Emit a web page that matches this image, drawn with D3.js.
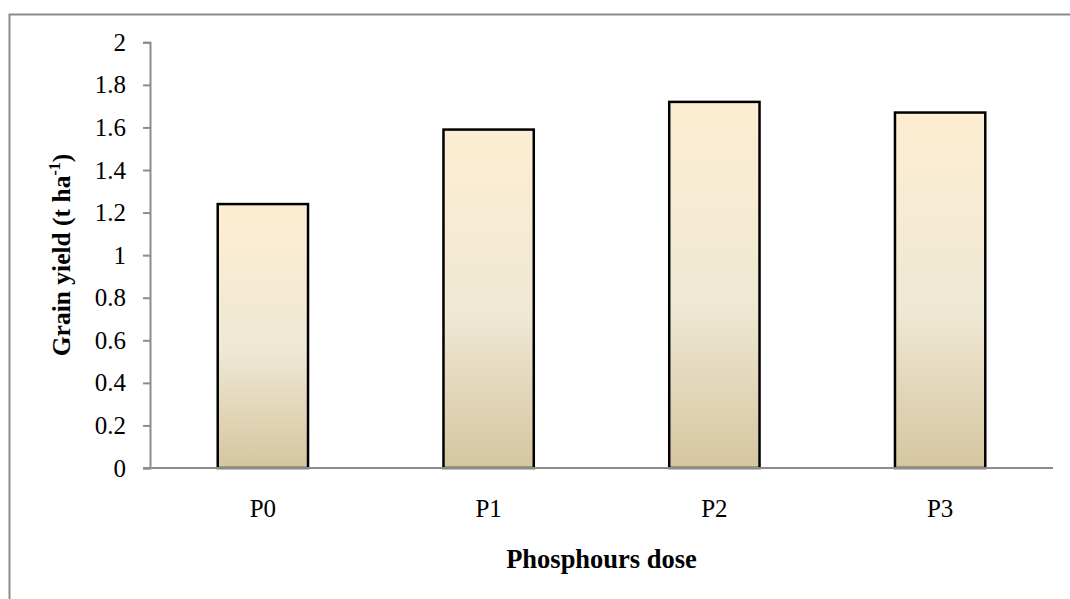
<!DOCTYPE html>
<html>
<head>
<meta charset="utf-8">
<script src="https://cdn.jsdelivr.net/npm/d3@7"></script>
<style>
  html, body { margin: 0; padding: 0; background: #fff; }
  svg { display: block; }
  svg text { font-family: "Liberation Serif", "Times New Roman", serif; fill: #000; }
</style>
</head>
<body>
<svg id="chart" width="1070" height="599"></svg>
<script>
// Grain yield by phosphorus dose
const categories = ["P0", "P1", "P2", "P3"];
const yieldValues = [1.24, 1.59, 1.72, 1.67];
const yTicks = [0, 0.2, 0.4, 0.6, 0.8, 1, 1.2, 1.4, 1.6, 1.8, 2];

const svg = d3.select("#chart");
const plot = { left: 150, right: 1053, top: 42.3, bottom: 468 };
const serif = '"Liberation Serif", "Times New Roman", serif';

// outer chart frame
svg.append("path")
  .attr("d", "M9.5,620 L9.5,14.5 L1075,14.5")
  .attr("fill", "none")
  .attr("stroke", "#8c8c8c")
  .attr("stroke-width", 2);

const x = d3.scaleBand()
  .domain(categories)
  .range([plot.left, plot.right])
  .paddingInner(0.6)
  .paddingOuter(0.3);

const y = d3.scaleLinear()
  .domain([0, 2])
  .range([plot.bottom, plot.top]);

// bar fill gradient
const defs = svg.append("defs");
const grad = defs.append("linearGradient")
  .attr("id", "barFill")
  .attr("x1", 0).attr("y1", 0).attr("x2", 0).attr("y2", 1);
grad.append("stop").attr("offset", "0%").attr("stop-color", "#fdeed2");
grad.append("stop").attr("offset", "55%").attr("stop-color", "#efe8d4");
grad.append("stop").attr("offset", "100%").attr("stop-color", "#d5c6a0");

// y axis
const yAxis = d3.axisLeft(y)
  .tickValues(yTicks)
  .tickSize(7)
  .tickPadding(17)
  .tickFormat(d3.format("~g"));
const gy = svg.append("g")
  .attr("transform", `translate(${plot.left},0)`)
  .call(yAxis);
gy.attr("font-family", null).attr("font-size", null);
gy.select(".domain").attr("stroke", "#8c8c8c").attr("stroke-width", 2);
gy.selectAll(".tick line").attr("stroke", "#8c8c8c").attr("stroke-width", 2);
gy.selectAll(".tick text")
  .style("font-family", serif)
  .style("font-size", "25px")
  .attr("fill", "#000");

// bars
svg.append("g")
  .selectAll("rect")
  .data(categories)
  .join("rect")
  .attr("x", d => x(d))
  .attr("y", (d, i) => y(yieldValues[i]))
  .attr("width", x.bandwidth())
  .attr("height", (d, i) => y(0) - y(yieldValues[i]))
  .attr("fill", "url(#barFill)")
  .attr("stroke", "#000")
  .attr("stroke-width", 2.5);

// x axis
const xAxis = d3.axisBottom(x).tickSize(0).tickPadding(31);
const gx = svg.append("g")
  .attr("transform", `translate(0,${plot.bottom})`)
  .call(xAxis);
gx.attr("font-family", null).attr("font-size", null);
gx.select(".domain").attr("stroke", "#8c8c8c").attr("stroke-width", 2)
  .attr("d", `M${plot.left - 7},0H${plot.right}`);
gx.selectAll(".tick text")
  .style("font-family", serif)
  .style("font-size", "25px")
  .attr("fill", "#000");

// axis titles
svg.append("text")
  .attr("x", (plot.left + plot.right) / 2)
  .attr("y", 568)
  .attr("text-anchor", "middle")
  .style("font-family", serif)
  .style("font-size", "26.5px")
  .style("font-weight", "bold")
  .text("Phosphours dose");

const yTitle = svg.append("text")
  .attr("transform", `translate(70,255) rotate(-90)`)
  .attr("text-anchor", "middle")
  .style("font-family", serif)
  .style("font-size", "25.5px")
  .style("font-weight", "bold");
yTitle.append("tspan").text("Grain yield (t ha");
yTitle.append("tspan").attr("dy", -10).style("font-size", "16px").text("-1");
yTitle.append("tspan").attr("dy", 10).text(")");
</script>
</body>
</html>
